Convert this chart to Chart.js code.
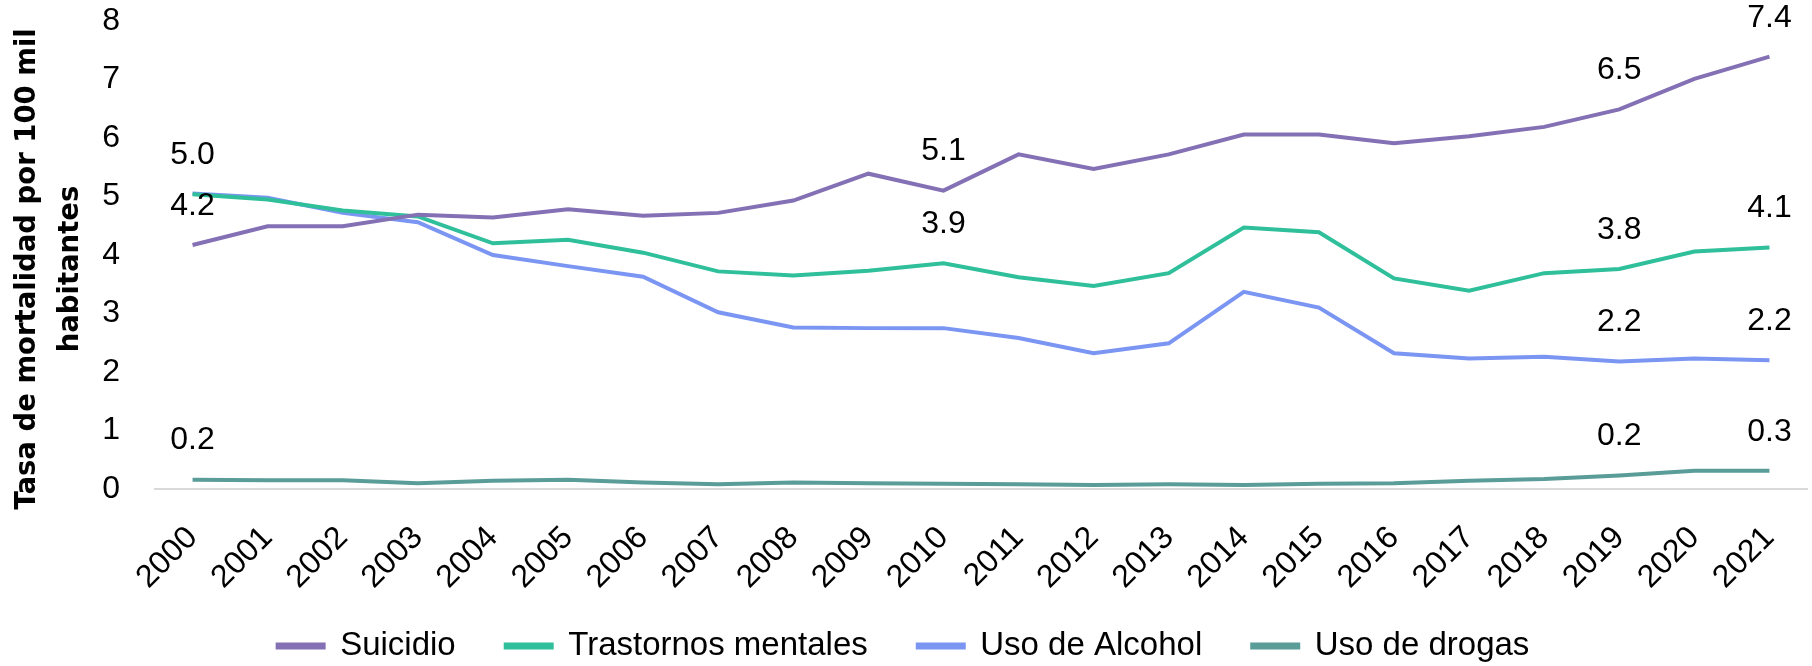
<!DOCTYPE html>
<html>
<head>
<meta charset="utf-8">
<script src="https://cdn.jsdelivr.net/npm/chart.js@4"></script>
<style>
  body { margin: 0; background: #fff; }
</style>
</head>
<body>
<canvas id="grafico" width="1812" height="666"></canvas>
<script>
// Datos
const anios = ["2000","2001","2002","2003","2004","2005","2006","2007","2008","2009","2010",
               "2011","2012","2013","2014","2015","2016","2017","2018","2019","2020","2021"]

const suicidio = [4.17, 4.49, 4.49, 4.69, 4.64, 4.78, 4.67, 4.72, 4.93, 5.39, 5.10,
                  5.72, 5.47, 5.72, 6.06, 6.06, 5.91, 6.03, 6.19, 6.49, 7.01, 7.39]
const trastornos = [5.04, 4.95, 4.76, 4.66, 4.20, 4.26, 4.04, 3.72, 3.65, 3.73, 3.86,
                    3.62, 3.47, 3.69, 4.47, 4.39, 3.60, 3.39, 3.69, 3.76, 4.06, 4.13]
const alcohol = [5.05, 4.98, 4.72, 4.56, 4.00, 3.81, 3.63, 3.02, 2.76, 2.75, 2.75,
                 2.58, 2.32, 2.49, 3.37, 3.10, 2.32, 2.23, 2.26, 2.18, 2.23, 2.20]
const drogas = [0.16, 0.15, 0.15, 0.10, 0.14, 0.16, 0.11, 0.08, 0.11, 0.10, 0.09,
                0.08, 0.07, 0.08, 0.07, 0.09, 0.10, 0.14, 0.17, 0.23, 0.31, 0.31]

// posiciones (índices) donde se muestra el valor sobre la línea
const etiquetasSuicidio = [0, 10, 19, 21]
const etiquetasTrastornos = [0, 10, 19, 21]
const etiquetasAlcohol = [19, 21]
const etiquetasDrogas = [0, 19, 21]

const tituloEje = ["Tasa de mortalidad por 100 mil", "habitantes"]

const fuente = "'Liberation Sans', Arial, sans-serif"

// plugin para escribir los valores sobre algunos puntos
const pluginEtiquetas = {
    id: "etiquetas",
    afterDatasetsDraw(chart){
        const ctx = chart.ctx
        ctx.save()
        ctx.font = "32px " + fuente
        ctx.fillStyle = "#000"
        ctx.textAlign = "center"
        ctx.textBaseline = "middle"
        chart.data.datasets.forEach((ds, i)=>{
            const meta = chart.getDatasetMeta(i)
            ds.etiquetas.forEach((idx)=>{
                const punto = meta.data[idx]
                ctx.fillText(ds.data[idx].toFixed(1), punto.x, punto.y - 39)
            })
        })
        ctx.restore()
    }
}

// plugin para el título del eje Y (dos líneas, en negrita)
const pluginTituloY = {
    id: "tituloY",
    afterDraw(chart){
        const ctx = chart.ctx
        const centroY = 269
        ctx.save()
        ctx.font = "bold 27.5px 'DejaVu Sans', sans-serif"
        ctx.fillStyle = "#000"
        ctx.textAlign = "center"
        ctx.textBaseline = "middle"
        ctx.translate(28, centroY)
        ctx.rotate(-Math.PI / 2)
        ctx.fillText(tituloEje[0], 0, 0)
        ctx.fillText(tituloEje[1], 0, 43)
        ctx.restore()
    }
}

// se fija el alto de la leyenda para que quede pegada abajo como en el original
const pluginAltoLeyenda = {
    id: "altoLeyenda",
    beforeInit(chart){
        if (!chart.legend) return
        const fitOriginal = chart.legend.fit
        chart.legend.fit = function(){
            fitOriginal.bind(chart.legend)()
            this.height = 86.5
        }
    }
}

function serie(nombre, datos, color, etiquetas){
    return {
        label: nombre,
        data: datos,
        borderColor: color,
        backgroundColor: color,
        borderWidth: 4,
        pointRadius: 0,
        tension: 0,
        etiquetas: etiquetas
    }
}

const config = {
    type: "line",
    data: {
        labels: anios,
        datasets: [
            serie("Suicidio", suicidio, "#8470b4", etiquetasSuicidio),
            serie("Trastornos mentales", trastornos, "#2fbf9a", etiquetasTrastornos),
            serie("Uso de Alcohol", alcohol, "#7b95f2", etiquetasAlcohol),
            serie("Uso de drogas", drogas, "#5a9c98", etiquetasDrogas)
        ]
    },
    options: {
        responsive: false,
        animation: false,
        layout: {
            padding: { left: 0, right: 5, top: 21, bottom: 0 }
        },
        plugins: {
            legend: {
                position: "bottom",
                labels: {
                    boxWidth: 46,
                    boxHeight: 3,
                    padding: 50,
                    color: "#000",
                    font: { family: fuente, size: 33 }
                }
            },
            tooltip: { enabled: false }
        },
        scales: {
            x: {
                offset: true,
                grid: { display: false, drawTicks: true, tickLength: 30 },
                border: { display: true, color: "#d9d9d9", width: 2 },
                afterFit: (escala)=>{
                    escala.height = 90.5
                    // los años girados bajan un poco más que la caja del eje: no recortarlos
                    escala._computeLabelArea = ()=>null
                },
                ticks: {
                    autoSkip: false,
                    minRotation: 45,
                    maxRotation: 45,
                    padding: 0,
                    color: "#000",
                    font: { family: fuente, size: 32 }
                }
            },
            y: {
                min: 0,
                max: 8,
                grid: { display: false, drawTicks: true, tickLength: 35 },
                border: { display: false },
                afterFit: (escala)=>{ escala.width = 155 },
                ticks: {
                    stepSize: 1,
                    padding: 0,
                    color: "#000",
                    font: { family: fuente, size: 32 }
                }
            }
        }
    },
    plugins: [pluginEtiquetas, pluginTituloY, pluginAltoLeyenda]
}

new Chart(document.getElementById("grafico"), config)
</script>
</body>
</html>
